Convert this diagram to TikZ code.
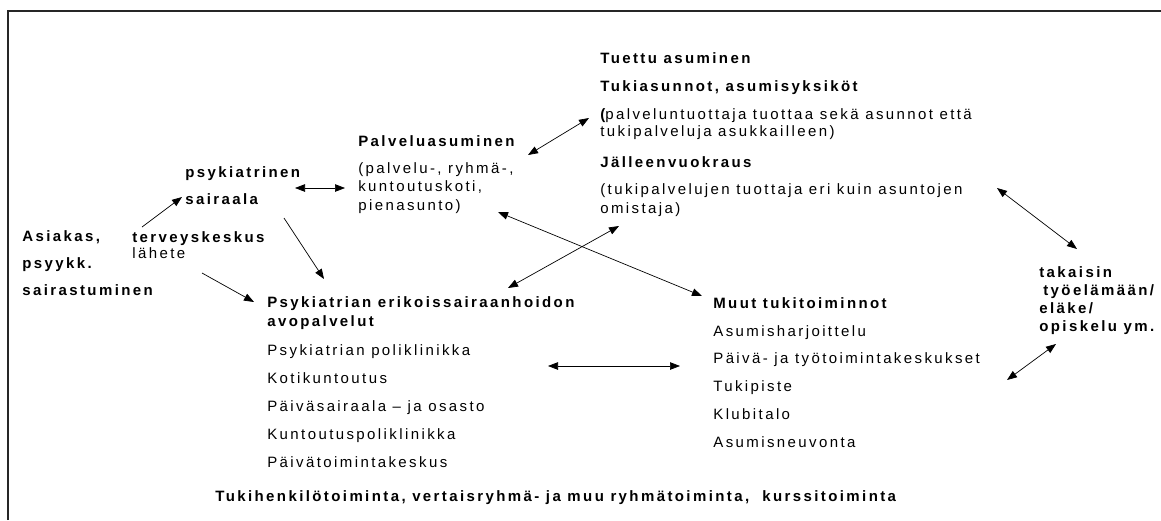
\documentclass[tikz,border=0pt]{standalone}
\usepackage{fontspec}
\setmainfont{Liberation Sans}[LetterSpace=16]
\usetikzlibrary{arrows.meta}

\begin{document}
\begin{tikzpicture}[x=1pt,y=-1pt,>={Triangle[length=10pt,width=7.5pt]},line width=0.7pt,
  head node/.style={inner sep=0pt,anchor=base west,font=\fontsize{15pt}{18pt}\selectfont\bfseries},
  text node/.style={inner sep=0pt,anchor=base west,font=\fontsize{15pt}{18pt}\selectfont}]
  \useasboundingbox (0,0) rectangle (1161,520);
  % frame
  \draw[line width=2pt,black!85] (8,520) -- (8,11) -- (1161,11);

  % start
  \node[head node] (asiak1) at (22,241) {Asiakas,};
  \node[head node] (asiak2) at (22,268) {psyykk.};
  \node[head node] (asiak3) at (22,295) {sairastuminen};
  \node[head node] (terv1) at (132,242) {terveyskeskus};
  \node[text node] (terv2) at (132,258) {lähete};
  \node[head node] (psyk1) at (185,177) {psykiatrinen};
  \node[head node] (psyk2) at (185,204) {sairaala};

  % housing
  \node[head node] (palv1) at (358,146) {Palveluasuminen};
  \node[text node] (palv2) at (358,173) {(palvelu-, ryhmä-,};
  \node[text node] (palv3) at (358,191) {kuntoutuskoti,};
  \node[text node] (palv4) at (358,210) {pienasunto)};
  \node[head node] (tuet1) at (600,63) {Tuettu asuminen};
  \node[head node] (tuet2) at (600,91) {Tukiasunnot, asumisyksiköt};
  \node[text node] (tuet3) at (600,119) {{\bfseries(}palveluntuottaja tuottaa sekä asunnot että};
  \node[text node] (tuet4) at (600,136) {tukipalveluja asukkailleen)};
  \node[head node] (jall1) at (600,167) {Jälleenvuokraus};
  \node[text node] (jall2) at (600,194) {(tukipalvelujen tuottaja eri kuin asuntojen};
  \node[text node] (jall3) at (600,213) {omistaja)};

  % outpatient care
  \node[head node] (erik1) at (267,307) {Psykiatrian erikoissairaanhoidon};
  \node[head node] (erik2) at (267,326) {avopalvelut};
  \node[text node] (erik3) at (267,355) {Psykiatrian poliklinikka};
  \node[text node] (erik4) at (267,383) {Kotikuntoutus};
  \node[text node] (erik5) at (267,411) {Päiväsairaala – ja osasto};
  \node[text node] (erik6) at (267,439) {Kuntoutuspoliklinikka};
  \node[text node] (erik7) at (267,467) {Päivätoimintakeskus};

  % other support
  \node[head node] (muut1) at (713,308) {Muut tukitoiminnot};
  \node[text node] (muut2) at (713,336) {Asumisharjoittelu};
  \node[text node] (muut3) at (713,363) {Päivä- ja työtoimintakeskukset};
  \node[text node] (muut4) at (713,391) {Tukipiste};
  \node[text node] (muut5) at (713,419) {Klubitalo};
  \node[text node] (muut6) at (713,447) {Asumisneuvonta};

  % back
  \node[head node] (tak1) at (1039,277) {takaisin};
  \node[head node] (tak2) at (1043,295) {työelämään/};
  \node[head node] (tak3) at (1039,313) {eläke/};
  \node[head node] (tak4) at (1039,331) {opiskelu ym.};

  \node[head node] (tuki) at (215,501) {Tukihenkilötoiminta, vertaisryhmä- ja muu ryhmätoiminta,\ \ kurssitoiminta};

  % arrows
  \draw[->] ([shift={(10pt,15pt)}]terv1.base west) -- ([shift={(-3pt,7pt)}]psyk2.base west);
  \draw[->] ([shift={(99pt,-14pt)}]psyk2.base west) -- ([shift={(57pt,28pt)}]erik1.base west);
  \draw[->] ([shift={(70pt,-15pt)}]terv2.base west) -- ([shift={(-13pt,5pt)}]erik1.base west);
  \draw[<->] ([shift={(110pt,-11pt)}]psyk1.base west) -- ([shift={(-13pt,3pt)}]palv3.base west);
  \draw[<->] ([shift={(170pt,-9pt)}]palv1.base west) -- ([shift={(-11pt,1pt)}]tuet3.base west);
  \draw[<->] ([shift={(140pt,-2pt)}]palv4.base west) -- ([shift={(-11pt,12pt)}]muut1.base west);
  \draw[<->] ([shift={(241pt,19pt)}]erik1.base west) -- ([shift={(19pt,-13pt)}]jall3.base west);
  \draw[<->] ([shift={(281pt,-11pt)}]erik3.base west) -- ([shift={(-33pt,-3pt)}]muut3.base west);
  \draw[<->] ([shift={(397pt,6pt)}]jall2.base west) -- ([shift={(38pt,28pt)}]tak1.base west);
  \draw[<->] ([shift={(294pt,-17pt)}]muut3.base west) -- ([shift={(17pt,-13pt)}]tak4.base west);
\end{tikzpicture}
\end{document}
